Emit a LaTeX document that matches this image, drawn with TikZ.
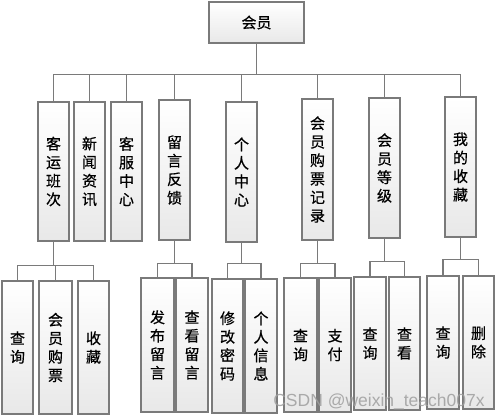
\documentclass[tikz,border=0pt]{standalone}
\usepackage{fontspec}
\newfontfamily\cjk{Noto Sans CJK SC}[FakeBold=0.6]
\newfontfamily\wmfont{Liberation Sans}
\usetikzlibrary{shadows}
\definecolor{edgegray}{HTML}{7A7A7A}
\tikzset{
  box/.style={draw=edgegray, line width=1.2pt, top color=white, bottom color=black!9,
    inner sep=0pt, align=center, font=\cjk\fontsize{15}{18.5}\selectfont,
    drop shadow={opacity=0.22, shadow xshift=1.2pt, shadow yshift=-1.2pt}},
  conn/.style={draw=edgegray, line width=1.2pt},
}
\begin{document}
\begin{tikzpicture}[x=1pt,y=1pt]
\useasboundingbox[fill=white] (0,0) rectangle (499,-419);
% root
\node[box, minimum width=95pt, minimum height=41pt] (root) at (256.5,-22.5) {会员};
% level 1
\node[box, minimum width=31pt, minimum height=139pt] (a1) at (53.5,-171.5) {客\\运\\班\\次};
\node[box, minimum width=31pt, minimum height=139pt] (a2) at (89.5,-171.5) {新\\闻\\资\\讯};
\node[box, minimum width=31pt, minimum height=139pt] (a3) at (126.5,-171.5) {客\\服\\中\\心};
\node[box, minimum width=31pt, minimum height=140pt] (a4) at (174.5,-170) {留\\言\\反\\馈};
\node[box, minimum width=31pt, minimum height=140pt] (a5) at (241.5,-172) {个\\人\\中\\心};
\node[box, minimum width=31pt, minimum height=141pt] (a6) at (317.5,-169.5) {会\\员\\购\\票\\记\\录};
\node[box, minimum width=31pt, minimum height=140pt] (a7) at (384.5,-168) {会\\员\\等\\级};
\node[box, minimum width=31pt, minimum height=140pt] (a8) at (460.5,-167) {我\\的\\收\\藏};
% level 2
\node[box, minimum width=31pt, minimum height=133pt] (b1) at (17.5,-347.5) {查\\询};
\node[box, minimum width=33pt, minimum height=133pt] (b2) at (55.5,-347.5) {会\\员\\购\\票};
\node[box, minimum width=31pt, minimum height=133pt] (b3) at (93.5,-347.5) {收\\藏};
\node[box, minimum width=33pt, minimum height=134pt] (b4) at (157.5,-345) {发\\布\\留\\言};
\node[box, minimum width=32pt, minimum height=134pt] (b5) at (192,-345) {查\\看\\留\\言};
\node[box, minimum width=31pt, minimum height=134pt] (b6) at (227.5,-346) {修\\改\\密\\码};
\node[box, minimum width=32pt, minimum height=134pt] (b7) at (261,-346) {个\\人\\信\\息};
\node[box, minimum width=33pt, minimum height=134pt] (b8) at (300.5,-345) {查\\询};
\node[box, minimum width=32pt, minimum height=134pt] (b9) at (335,-345) {支\\付};
\node[box, minimum width=32pt, minimum height=133pt] (b10) at (370,-343.5) {查\\询};
\node[box, minimum width=31pt, minimum height=133pt] (b11) at (404.5,-343.5) {查\\看};
\node[box, minimum width=32pt, minimum height=133pt] (b12) at (443,-342.5) {查\\询};
\node[box, minimum width=31pt, minimum height=133pt] (b13) at (478.5,-342.5) {删\\除};
% connectors root -> level 1
\foreach \c in {a1,a2,a3,a4,a5,a6,a7,a8}
  \draw[conn] (root.south) -- ++(0,-31) -| (\c.north);
% level 1 -> level 2
\foreach \c in {b1,b2,b3} \draw[conn] (a1.south) -- ++(0,-24) -| (\c.north);
\foreach \c in {b4,b5} \draw[conn] (a4.south) -- ++(0,-23) -| (\c.north);
\foreach \c in {b6,b7} \draw[conn] (a5.south) -- ++(0,-21) -| (\c.north);
\foreach \c in {b8,b9} \draw[conn] (a6.south) -- ++(0,-23) -| (\c.north);
\foreach \c in {b10,b11} \draw[conn] (a7.south) -- ++(0,-23) -| (\c.north);
\foreach \c in {b12,b13} \draw[conn] (a8.south) -- ++(0,-22) -| (\c.north);
% watermark
\node[text=black!38, opacity=0.85, font=\wmfont\fontsize{17.5}{17.5}\selectfont, inner sep=0pt] (wm) at (379,-402) {CSDN @weixin\_teach007x};
\end{tikzpicture}
\end{document}
